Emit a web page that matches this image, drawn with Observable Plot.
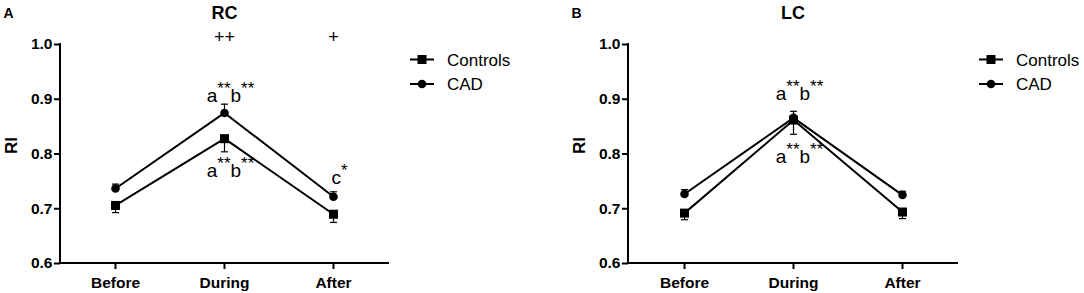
<!DOCTYPE html>
<html>
<head>
<meta charset="utf-8">
<script src="https://cdn.jsdelivr.net/npm/d3@7"></script>
<script src="https://cdn.jsdelivr.net/npm/@observablehq/plot@0.6"></script>
<style>
  body { margin: 0; background: #fff; }
  #wrap { position: relative; width: 1084px; height: 293px; overflow: hidden; background: #fff;
          font-family: "Liberation Sans", Arial, sans-serif; }
  .panel { position: absolute; top: 0; }
</style>
</head>
<body>
<div id="wrap"></div>
<script>
// ---------- data ----------
const periods = ["Before", "During", "After"];
const seriesNames = ["Controls", "CAD"];
const panelTitles = ["RC", "LC"];
const panelLetters = ["A", "B"];
const yLabel = "RI";
const yTicks = [0.6, 0.7, 0.8, 0.9, 1.0];
const yDomain = [0.6, 1.0];

// RC panel (mean, SEM)
const rcControls = [0.706, 0.828, 0.690];
const rcControlsErr = [0.013, 0.024, 0.015];
const rcCAD = [0.737, 0.875, 0.722];
const rcCADErr = [0.008, 0.016, 0.009];

// LC panel (mean, SEM)
const lcControls = [0.692, 0.862, 0.694];
const lcControlsErr = [0.012, 0.026, 0.012];
const lcCAD = [0.727, 0.866, 0.725];
const lcCADErr = [0.008, 0.012, 0.007];

// annotations
const rcLetters = [
  {period: "During", y: 0.895, label: "a**b**"},
  {period: "During", y: 0.758, label: "a**b**"},
  {period: "After", y: 0.746, label: "c*"}
];
const lcLetters = [
  {period: "During", y: 0.898, label: "a**b**"},
  {period: "During", y: 0.783, label: "a**b**"}
];
const rcSignif = [
  {period: "During", y: 1.014, label: "++"},
  {period: "After", y: 1.014, label: "+"}
];
const lcSignif = [];

// ---------- helpers ----------
function buildRows(ctrl, ctrlErr, cad, cadErr) {
  const rows = [];
  periods.forEach((p, i) => {
    rows.push({series: "Controls", period: p, value: ctrl[i], end: ctrl[i] - ctrlErr[i]});
    rows.push({series: "CAD", period: p, value: cad[i], end: cad[i] + cadErr[i]});
  });
  return rows;
}

const capSymbol = {
  draw(ctx, size) {
    const w = Math.sqrt(size);
    ctx.moveTo(-w / 2, 0);
    ctx.lineTo(w / 2, 0);
  }
};

function axisFrame(...args) {
  const dims = args.find(a => a && typeof a === "object" && "marginLeft" in a && "width" in a);
  const {marginLeft: l, marginTop: t, marginRight: r, marginBottom: b, width: w, height: h} = dims;
  return d3.create("svg:path")
    .attr("d", `M${l},${t}V${h - b}H${w - r}`)
    .attr("fill", "none").attr("stroke", "black")
    .attr("stroke-width", 2).attr("stroke-linecap", "square")
    .node();
}

function superscriptify(svg) {
  d3.select(svg).selectAll("text").each(function () {
    const s = this.textContent;
    if (!s.includes("*") || this.querySelector("tspan")) return;
    const parts = s.match(/\*+|[^*]+/g);
    this.textContent = "";
    let shift = 0;
    for (const p of parts) {
      const sup = p[0] === "*";
      const target = sup ? -8 : 0;
      const t = d3.select(this).append("tspan").attr("dy", target - shift).text(p);
      if (sup) t.attr("font-size", 17);
      shift = target;
    }
  });
}

const legendSymbols = {Controls: "square", CAD: "circle"};

function addLegend(svg, frameRight) {
  const g = d3.select(svg).append("g").attr("fill", "black").attr("text-anchor", "start");
  const mx = frameRight + 34, tx = frameRight + 59;
  seriesNames.forEach((name, i) => {
    const y = 59.5 + i * 24.5;
    g.append("line").attr("x1", mx - 12).attr("x2", mx + 12).attr("y1", y).attr("y2", y)
      .attr("stroke", "black").attr("stroke-width", 2);
    if (legendSymbols[name] === "square") {
      g.append("rect").attr("x", mx - 4.5).attr("y", y - 4.5).attr("width", 9).attr("height", 9);
    } else {
      g.append("circle").attr("cx", mx).attr("cy", y).attr("r", 4.3);
    }
    g.append("text").attr("x", tx).attr("y", y).attr("dy", "0.36em")
      .attr("text-anchor", "start").attr("font-size", 17).text(name);
  });
}

function makePanel({rows, letters, signif, title, letter, marginLeft, marginRight}) {
  const width = 542, height = 293;
  const svg = Plot.plot({
    width, height,
    marginLeft, marginRight, marginTop: 44, marginBottom: 30,
    x: {type: "point", domain: periods, padding: 0.5},
    y: {domain: yDomain},
    style: {fontFamily: "'Liberation Sans', Arial, sans-serif", fontSize: "15px",
            background: "white", color: "black", overflow: "visible"},
    marks: [
      Plot.axisY({ticks: yTicks, tickFormat: d3.format(".1f"), tickSize: 6, tickPadding: 2,
                  fontSize: 15.5, fontWeight: "bold", strokeWidth: 2, label: null}),
      Plot.axisX({tickSize: 6, tickPadding: 7, fontSize: 15.5, fontWeight: "bold",
                  strokeWidth: 2, label: null}),
      axisFrame,
      Plot.line(rows, {x: "period", y: "value", z: "series", stroke: "black", strokeWidth: 2}),
      Plot.ruleX(rows, {x: "period", y1: "value", y2: "end", stroke: "black", strokeWidth: 1.2}),
      Plot.dot(rows, {x: "period", y: "end", symbol: capSymbol, r: 3.95, stroke: "black",
                      strokeWidth: 1.2, fill: "none"}),
      Plot.dot(rows.filter(d => d.series === "Controls"),
               {x: "period", y: "value", symbol: "square", r: 5.1, fill: "black", stroke: "none"}),
      Plot.dot(rows.filter(d => d.series === "CAD"),
               {x: "period", y: "value", symbol: "circle", r: 4.3, fill: "black", stroke: "none"}),
      Plot.text(letters, {x: "period", y: "y", text: "label", dx: 6, lineAnchor: "bottom",
                          fontSize: 19, fill: "black"}),
      Plot.text(signif, {x: "period", y: "y", text: "label", fontSize: 18, fill: "black"}),
      Plot.text([title], {text: d => d, frameAnchor: "top", dy: -26, lineAnchor: "bottom",
                          fontSize: 18, fontWeight: "bold", fill: "black"}),
      Plot.text([letter], {text: d => d, frameAnchor: "top-left", dx: -57, dy: -26.7,
                           textAnchor: "start", lineAnchor: "bottom",
                           fontSize: 14, fontWeight: "bold", fill: "black"}),
      Plot.text([yLabel], {text: d => d, frameAnchor: "left", rotate: -90, dx: -49,
                           fontSize: 17, fontWeight: "bold", fill: "black"})
    ]
  });
  superscriptify(svg);
  addLegend(svg, width - marginRight);
  return svg;
}

const wrap = document.getElementById("wrap");

const left = document.createElement("div");
left.className = "panel"; left.style.left = "0px";
left.appendChild(makePanel({
  rows: buildRows(rcControls, rcControlsErr, rcCAD, rcCADErr),
  letters: rcLetters, signif: rcSignif,
  title: panelTitles[0], letter: panelLetters[0],
  marginLeft: 60, marginRight: 154
}));
wrap.appendChild(left);

const right = document.createElement("div");
right.className = "panel"; right.style.left = "542px";
right.appendChild(makePanel({
  rows: buildRows(lcControls, lcControlsErr, lcCAD, lcCADErr),
  letters: lcLetters, signif: lcSignif,
  title: panelTitles[1], letter: panelLetters[1],
  marginLeft: 86, marginRight: 127
}));
wrap.appendChild(right);
</script>
</body>
</html>
